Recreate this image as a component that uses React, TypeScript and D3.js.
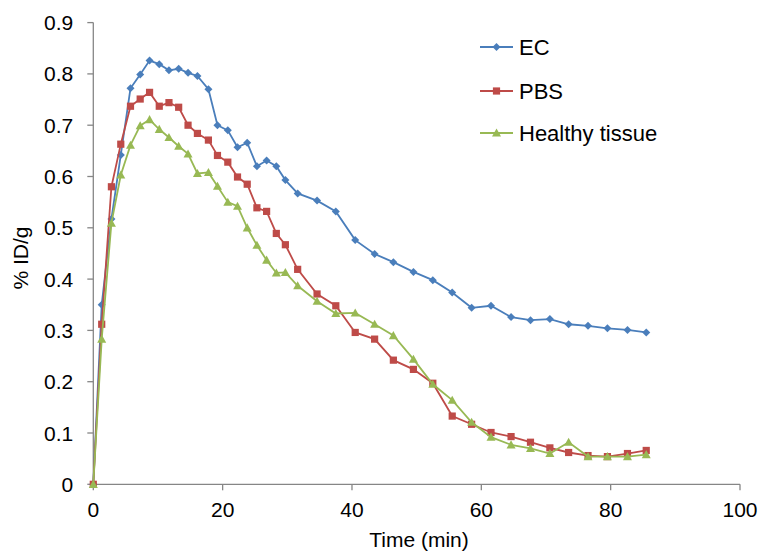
import React from "react";
import * as d3 from "d3";

const times = [0,1.3,2.8,4.25,5.75,7.25,8.7,10.2,11.7,13.2,14.65,16.1,17.8,19.2,20.8,22.3,23.8,25.3,26.8,28.3,29.7,31.6,34.6,37.5,40.5,43.5,46.4,49.5,52.5,55.5,58.5,61.5,64.6,67.6,70.6,73.5,76.5,79.5,82.6,85.5];
const ecValues = [0,0.35,0.517,0.642,0.772,0.799,0.826,0.819,0.807,0.810,0.802,0.796,0.770,0.700,0.690,0.657,0.666,0.620,0.631,0.620,0.593,0.567,0.553,0.532,0.476,0.449,0.433,0.414,0.398,0.374,0.344,0.348,0.326,0.320,0.322,0.312,0.309,0.304,0.301,0.296];
const pbsValues = [0,0.312,0.580,0.663,0.737,0.751,0.764,0.737,0.744,0.735,0.700,0.684,0.671,0.641,0.628,0.599,0.585,0.539,0.532,0.489,0.467,0.419,0.371,0.348,0.296,0.283,0.242,0.224,0.197,0.133,0.117,0.101,0.093,0.082,0.071,0.062,0.056,0.054,0.060,0.066];
const healthyValues = [0,0.283,0.509,0.603,0.661,0.699,0.711,0.692,0.676,0.659,0.644,0.606,0.608,0.581,0.550,0.542,0.500,0.466,0.437,0.412,0.413,0.387,0.357,0.333,0.334,0.312,0.290,0.244,0.195,0.164,0.121,0.092,0.077,0.070,0.060,0.082,0.054,0.054,0.054,0.058];
const seriesNames = ["EC", "PBS", "Healthy tissue"];
const xTicks = [0, 20, 40, 60, 80, 100];
const yTicks = [0, 0.1, 0.2, 0.3, 0.4, 0.5, 0.6, 0.7, 0.8, 0.9];

const colors = ["#4A7EBB", "#BE4B48", "#98B954"];
const FONT = "'Liberation Sans', Arial, sans-serif";

function Marker({ kind, x, y, color }: { kind: number; x: number; y: number; color: string }) {
  if (kind === 0) {
    const s = 4;
    return <path d={`M${x},${y - s}L${x + s},${y}L${x},${y + s}L${x - s},${y}Z`} fill={color} />;
  }
  if (kind === 1) {
    const s = 3.6;
    return <rect x={x - s} y={y - s} width={2 * s} height={2 * s} fill={color} />;
  }
  const s = 4.5;
  return <path d={`M${x},${y - s}L${x + s},${y + s * 0.8}L${x - s},${y + s * 0.8}Z`} fill={color} />;
}

export default function App() {
  const x = d3.scaleLinear().domain([0, 100]).range([93.3, 740]);
  const y = d3.scaleLinear().domain([0, 0.9]).range([484.3, 22.6]);
  const series = [ecValues, pbsValues, healthyValues];
  const line = d3
    .line<number>()
    .x((_, i) => x(times[i]))
    .y((d) => y(d));

  const legendY = [47, 91, 133];

  return (
    <svg
      width={761}
      height={552}
      style={{ position: "absolute", left: 0, top: 0, background: "#fff" }}
      fontFamily={FONT}
    >
      {/* axes */}
      <line x1={x(0)} x2={x(0)} y1={y(0.9)} y2={y(0)} stroke="#868686" strokeWidth={1.3} />
      <line x1={x(0)} x2={x(100)} y1={y(0)} y2={y(0)} stroke="#868686" strokeWidth={1.3} />
      {yTicks.map((t) => (
        <g key={"y" + t}>
          <line x1={x(0) - 6} x2={x(0)} y1={y(t)} y2={y(t)} stroke="#868686" strokeWidth={1.3} />
          <text x={x(0) - 20} y={y(t)} dy="0.36em" textAnchor="end" fontSize={21} fill="#000">
            {t === 0 ? "0" : d3.format(".1f")(t)}
          </text>
        </g>
      ))}
      {xTicks.map((t) => (
        <g key={"x" + t}>
          <line x1={x(t)} x2={x(t)} y1={y(0)} y2={y(0) + 6} stroke="#868686" strokeWidth={1.3} />
          <text x={x(t)} y={y(0) + 33} textAnchor="middle" fontSize={21} fill="#000">
            {t}
          </text>
        </g>
      ))}
      <text x={419} y={547} textAnchor="middle" fontSize={21} fill="#000">
        Time (min)
      </text>
      <text
        transform={`translate(28,258) rotate(-90)`}
        textAnchor="middle"
        fontSize={21}
        fill="#000"
      >
        % ID/g
      </text>

      {/* series */}
      {series.map((vals, si) => (
        <g key={si}>
          <path d={line(vals) || ""} fill="none" stroke={colors[si]} strokeWidth={1.8} />
          {vals.map((v, i) => (
            <Marker key={i} kind={si} x={x(times[i])} y={y(v)} color={colors[si]} />
          ))}
        </g>
      ))}

      {/* legend */}
      {seriesNames.map((name, si) => (
        <g key={name}>
          <line x1={480} x2={513} y1={legendY[si]} y2={legendY[si]} stroke={colors[si]} strokeWidth={1.8} />
          <Marker kind={si} x={496.5} y={legendY[si]} color={colors[si]} />
          <text x={519} y={legendY[si]} dy="0.36em" fontSize={22} fill="#000">
            {name}
          </text>
        </g>
      ))}
    </svg>
  );
}
